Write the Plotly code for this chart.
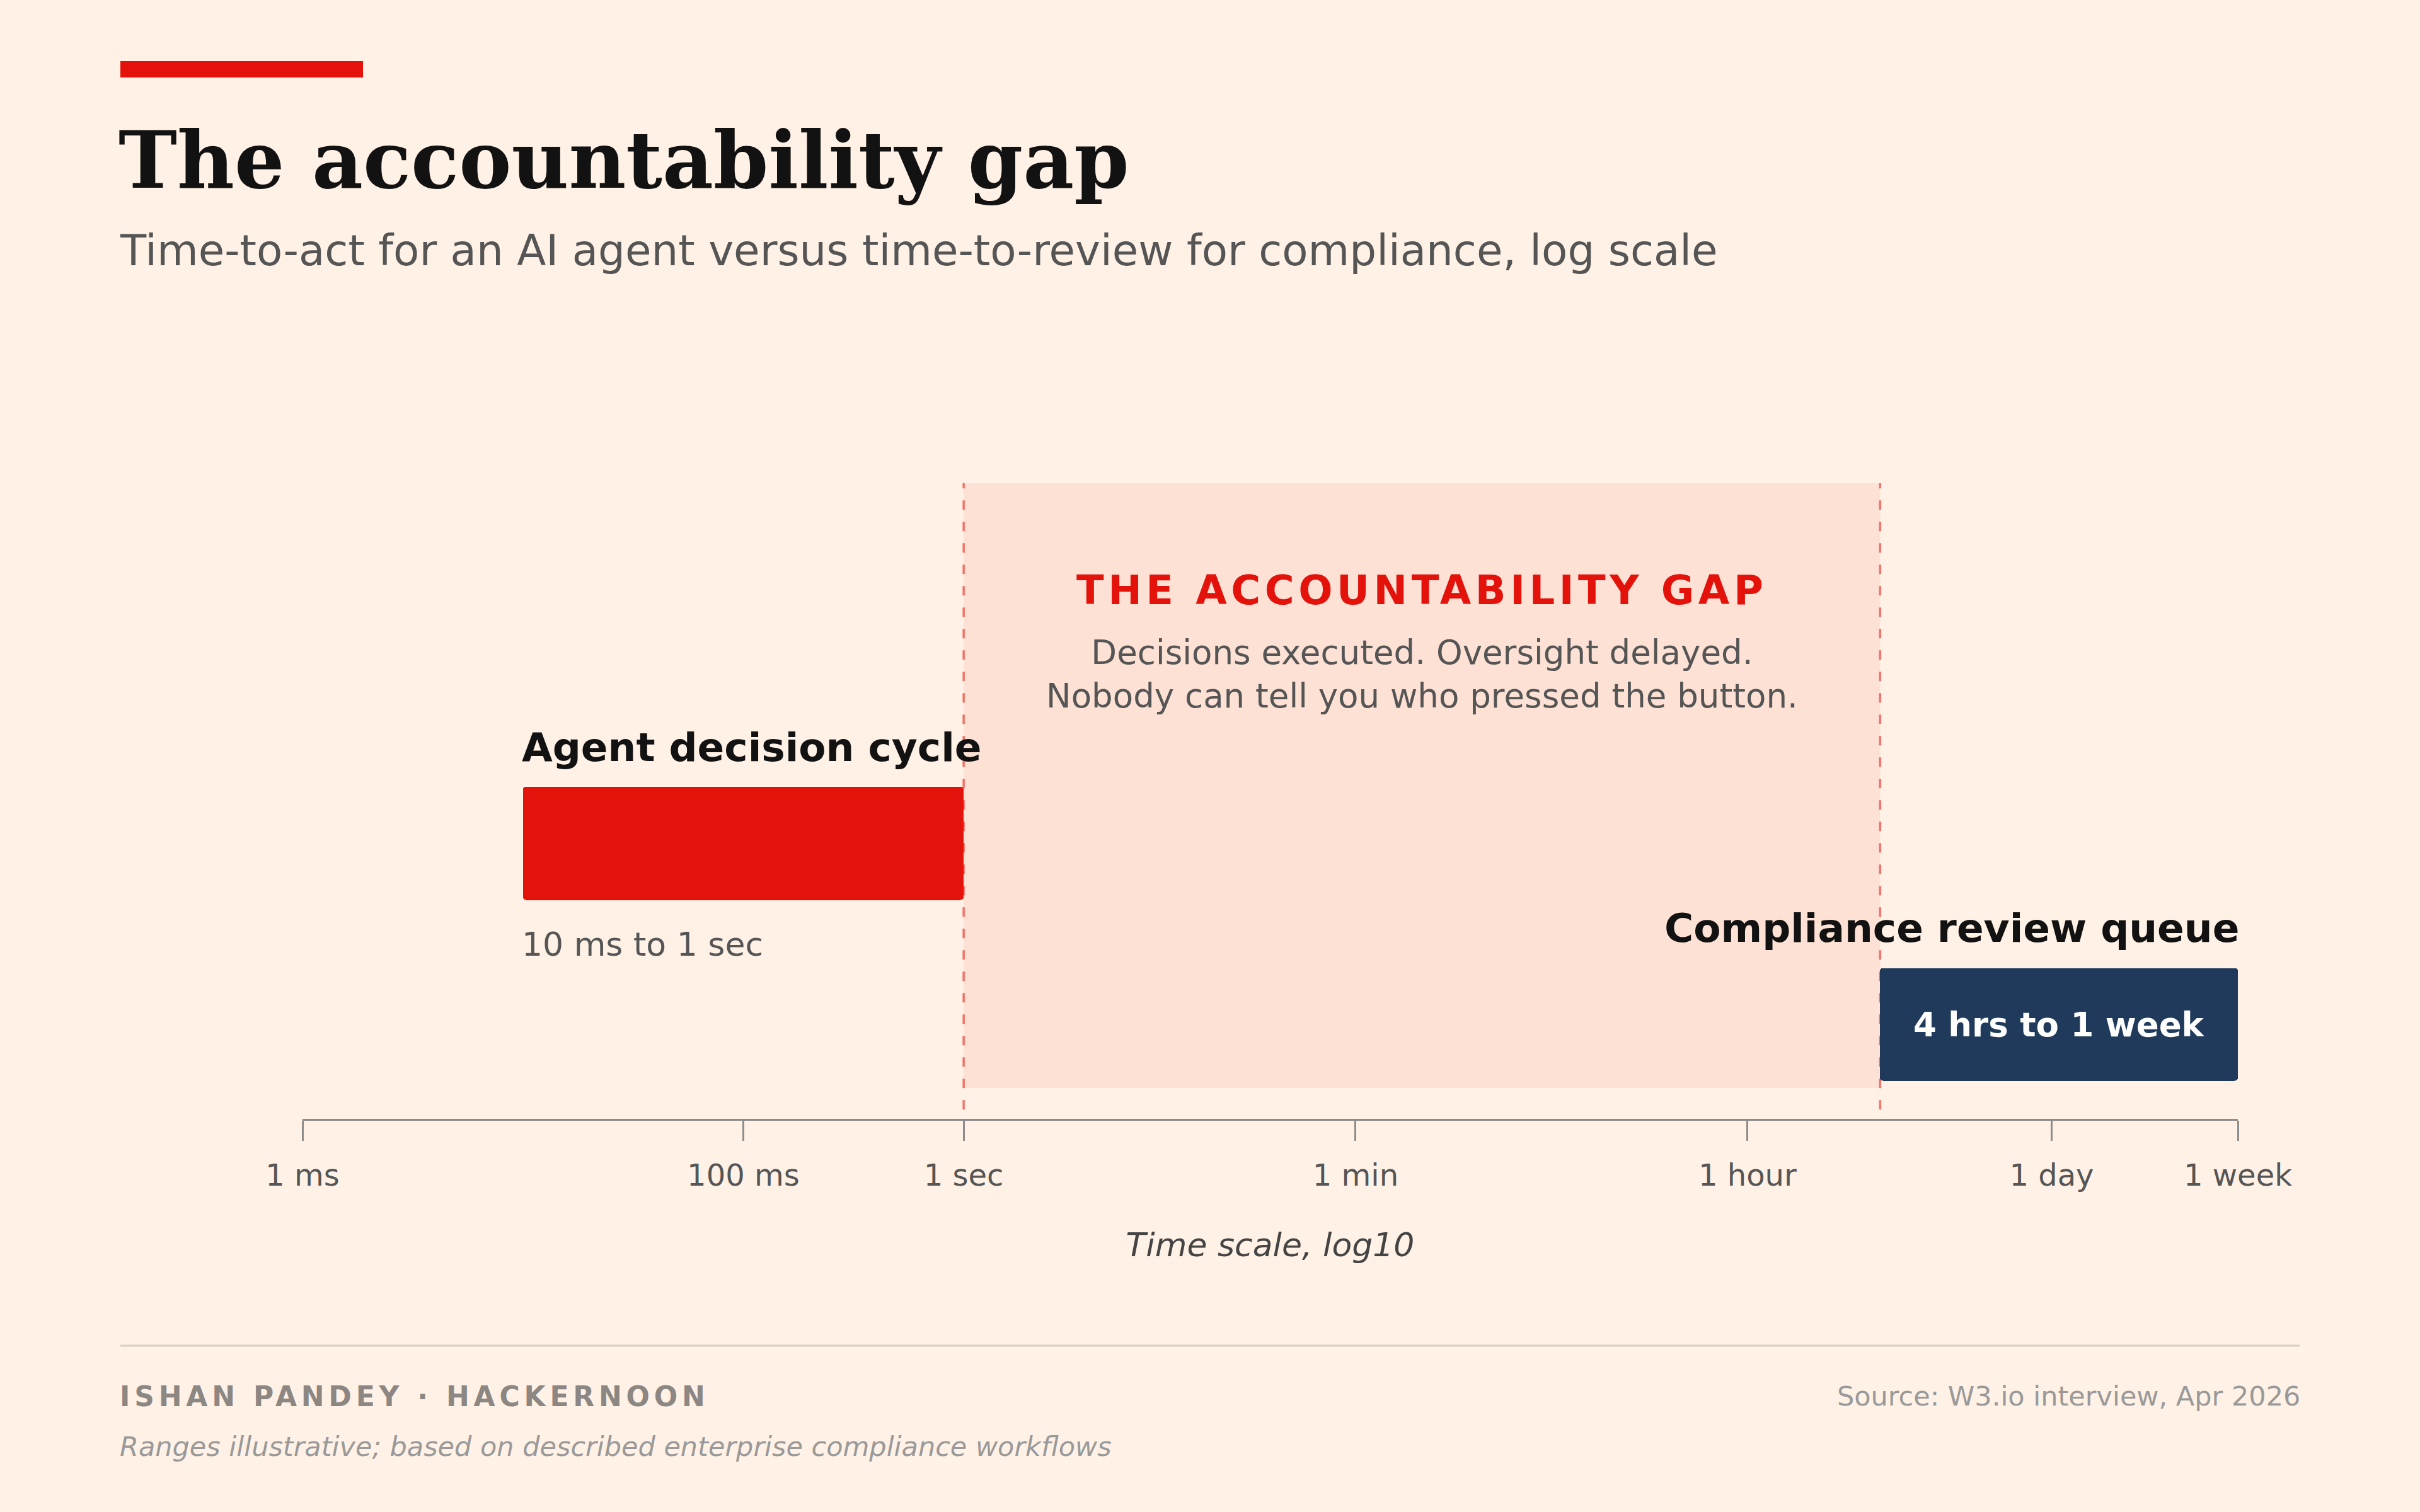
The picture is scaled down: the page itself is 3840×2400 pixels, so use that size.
import math
import plotly.graph_objects as go

# ---------------- data ----------------
categories = ["Agent decision cycle", "Compliance review queue"]
start_seconds = [0.01, 14400]        # 10 ms, 4 hours
end_seconds = [1, 604800]            # 1 sec, 1 week
range_labels = ["10 ms to 1 sec", "4 hrs to 1 week"]
tick_values = [0.001, 0.1, 1, 60, 3600, 86400, 604800]
tick_labels = ["1 ms", "100 ms", "1 sec", "1 min", "1 hour", "1 day", "1 week"]

# ---------------- styles ----------------
BG = "#fff1e5"
RED = "#e3120b"
NAVY = "#1f3a5a"
INK = "#121212"
GREY = "#555555"
LIGHT = "#999999"
SANS = "DejaVu Sans"
SERIF = "DejaVu Serif"

rows = [1, 0]                      # agent row on top
bar_colors = [RED, NAVY]
lengths = [e - s for s, e in zip(start_seconds, end_seconds)]

fig = go.Figure()
fig.add_trace(go.Bar(
    orientation="h",
    y=rows,
    x=lengths,
    base=start_seconds,
    width=0.623,
    marker=dict(color=bar_colors, cornerradius=5, line=dict(width=0)),
    hoverinfo="skip",
    showlegend=False,
))

gap_start = end_seconds[0]
gap_end = start_seconds[1]

shapes = [
    # gap shading
    dict(type="rect", xref="x", yref="y", x0=gap_start, x1=gap_end, y0=-0.351, y1=2.988,
         fillcolor="rgba(227,18,11,0.07)", line=dict(width=0), layer="below"),
    # dashed edges
    dict(type="line", xref="x", yref="y", x0=gap_start, x1=gap_start, y0=-0.47, y1=2.988,
         line=dict(color="rgba(227,18,11,0.55)", width=3.5, dash="15px,19px"), layer="below"),
    dict(type="line", xref="x", yref="y", x0=gap_end, x1=gap_end, y0=-0.47, y1=2.988,
         line=dict(color="rgba(227,18,11,0.55)", width=3.5, dash="15px,19px"), layer="below"),
    # red accent bar
    dict(type="rect", xref="paper", yref="paper", x0=191/3840, x1=576/3840,
         y0=1-123/2400, y1=1-97/2400, fillcolor=RED, line=dict(width=0)),
    # footer rule
    dict(type="line", xref="paper", yref="paper", x0=191/3840, x1=3649/3840,
         y0=1-2136/2400, y1=1-2136/2400, line=dict(color="#d8cdc2", width=3)),
]

L = math.log10
annotations = [
    dict(text="The accountability gap", xref="paper", yref="paper", x=186/3840, y=1-254/2400,
         xanchor="left", yanchor="middle", showarrow=False,
         font=dict(family=SERIF, size=125, color=INK, weight=700)),
    dict(text="Time-to-act for an AI agent versus time-to-review for compliance, log scale",
         xref="paper", yref="paper", x=188/3840, y=1-397/2400, xanchor="left", yanchor="middle",
         showarrow=False, font=dict(family=SANS, size=67.5, color=GREY)),
    # gap headline + body
    dict(text='<span style="letter-spacing:6.5px">THE ACCOUNTABILITY GAP</span>',
         xref="x", yref="y", x=(L(gap_start) + L(gap_end)) / 2, y=2.3965,
         xanchor="center", yanchor="middle", showarrow=False,
         font=dict(family=SANS, size=64, color=RED, weight=700)),
    dict(text="Decisions executed. Oversight delayed.<br>Nobody can tell you who pressed the button.",
         xref="x", yref="y", x=(L(gap_start) + L(gap_end)) / 2, y=1.934,
         xanchor="center", yanchor="middle", align="center", showarrow=False,
         font=dict(family=SANS, size=53, color=GREY)),
    # agent labels
    dict(text=categories[0], xref="x", yref="y", x=L(start_seconds[0]), y=rows[0] + 0.53,
         xanchor="left", yanchor="middle", showarrow=False,
         font=dict(family=SANS, size=63, color=INK, weight=700), xshift=-4),
    dict(text=range_labels[0], xref="x", yref="y", x=L(start_seconds[0]), y=rows[0] - 0.558,
         xanchor="left", yanchor="middle", showarrow=False,
         font=dict(family=SANS, size=52, color=GREY), xshift=-4),
    # compliance labels
    dict(text=categories[1], xref="x", yref="y", x=L(end_seconds[1]), y=rows[1] + 0.529,
         xanchor="right", yanchor="middle", showarrow=False,
         font=dict(family=SANS, size=63, color=INK, weight=700), xshift=4),
    dict(text=range_labels[1], xref="x", yref="y", x=(L(start_seconds[1]) + L(end_seconds[1])) / 2,
         y=rows[1], xanchor="center", yanchor="middle", showarrow=False,
         font=dict(family=SANS, size=53, color="#ffffff", weight=700)),
    # footer
    dict(text='<span style="letter-spacing:6.8px">ISHAN PANDEY · HACKERNOON</span>',
         xref="paper", yref="paper", x=188/3840, y=1-2216/2400, xanchor="left", yanchor="middle",
         showarrow=False, font=dict(family=SANS, size=44, color="#8c8782", weight=700)),
    dict(text="Source: W3.io interview, Apr 2026", xref="paper", yref="paper", x=3652/3840,
         y=1-2216/2400, xanchor="right", yanchor="middle", showarrow=False,
         font=dict(family=SANS, size=43, color=LIGHT)),
    dict(text="Ranges illustrative; based on described enterprise compliance workflows",
         xref="paper", yref="paper", x=188/3840, y=1-2296/2400, xanchor="left", yanchor="middle",
         showarrow=False, font=dict(family=SANS, size=43, color=LIGHT, style="italic")),
]

fig.update_layout(
    width=3840, height=2400,
    margin=dict(l=0, r=0, t=0, b=0, pad=0, autoexpand=False),
    paper_bgcolor=BG, plot_bgcolor=BG,
    showlegend=False,
    shapes=shapes,
    annotations=annotations,
    bargap=0,
    xaxis=dict(
        type="log",
        range=[-3, L(604800)],
        domain=[480/3840, 3551/3840],
        automargin=False,
        showline=True, linecolor="#8c8c8c", linewidth=3,
        ticks="outside", ticklen=32, tickwidth=3, tickcolor="#8c8c8c",
        tickvals=tick_values, ticktext=tick_labels,
        tickfont=dict(family=SANS, size=48, color=GREY),
        ticklabelstandoff=13,
        showgrid=False, zeroline=False,
        title=dict(text="Time scale, log10", standoff=66,
                   font=dict(family=SANS, size=52, color="#444444", style="italic")),
        fixedrange=True,
    ),
    yaxis=dict(
        range=[-0.5217, 3.0],
        domain=[(2400-1776)/2400, (2400-763.5)/2400],
        automargin=False,
        visible=False, showgrid=False, zeroline=False, fixedrange=True,
    ),
)

fig.write_html("out.html")
